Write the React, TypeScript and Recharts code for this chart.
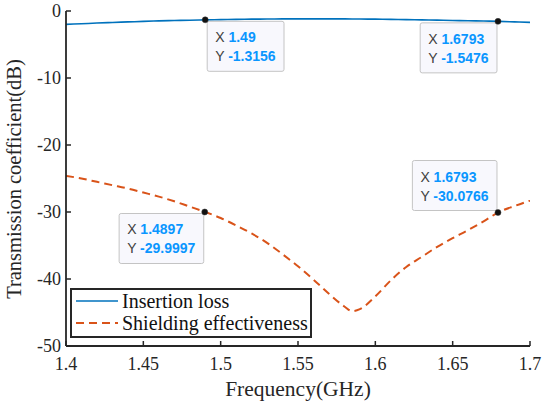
import React from 'react';
import { LineChart, Line, XAxis, YAxis, ReferenceDot, Legend, Label } from 'recharts';

// ---- data ----
const freq = [1.40, 1.41, 1.42, 1.43, 1.44, 1.45, 1.46, 1.47, 1.48, 1.49, 1.50, 1.51, 1.52, 1.53, 1.54, 1.55, 1.56, 1.57, 1.58, 1.585, 1.59, 1.60, 1.61, 1.62, 1.63, 1.64, 1.65, 1.66, 1.67, 1.68, 1.69, 1.70];
const insertionLoss = [-2.0, -1.9, -1.8, -1.71, -1.63, -1.55, -1.48, -1.42, -1.37, -1.32, -1.28, -1.25, -1.22, -1.2, -1.18, -1.17, -1.17, -1.17, -1.18, -1.19, -1.2, -1.22, -1.25, -1.28, -1.32, -1.36, -1.41, -1.46, -1.5, -1.55, -1.62, -1.7];
const shielding = [-24.6, -25.0, -25.5, -26.0, -26.5, -27.1, -27.7, -28.4, -29.2, -30.0, -30.9, -32.0, -33.2, -34.6, -36.3, -38.1, -40.1, -42.2, -44.1, -44.8, -44.5, -42.6, -40.2, -38.2, -36.7, -35.2, -33.9, -32.7, -31.4, -30.0, -29.1, -28.3];

const xTicks = [1.4, 1.45, 1.5, 1.55, 1.6, 1.65, 1.7];
const yTicks = [0, -10, -20, -30, -40, -50];

const seriesNames = ['Insertion loss', 'Shielding effectiveness'];

const tipFreq = [1.49, 1.6793, 1.4897, 1.6793];
const tipValue = [-1.3156, -1.5476, -29.9997, -30.0766];
const tipXText = ['1.49', '1.6793', '1.4897', '1.6793'];
const tipYText = ['-1.3156', '-1.5476', '-29.9997', '-30.0766'];

const xLabel = 'Frequency(GHz)';
const yLabel = 'Transmission coefficient(dB)';

const tableData = freq.map((f, i) => ({ freq: f, il: insertionLoss[i], se: shielding[i] }));

// ---- styles ----
const AXIS = '#262626';
const SERIF = 'Liberation Serif';
const SANS = 'Liberation Sans';
const BLUE = '#0072BD';
const ORANGE = '#D95319';
const TIP_BLUE = '#0a96ff';
const tipPlacement = ['right-below', 'left-below', 'left-below', 'left-above'];

const charW = (s: string) => {
  let w = 0;
  for (const c of s) {
    if (c === '.') w += 3.9;
    else if (c === '-') w += 4.7;
    else w += 7.8;
  }
  return w;
};

const BottomTick = (props: any) => {
  const { x, y, payload } = props;
  return (
    <g>
      <line x1={x} x2={x} y1={y} y2={y - 5} stroke={AXIS} strokeWidth={1.5} />
      <text x={x} y={y + 24} textAnchor="middle" fontSize={18} fontFamily={SERIF} fill={AXIS}>
        {String(payload.value)}
      </text>
    </g>
  );
};
const TopTick = (props: any) => {
  const { x, y } = props;
  return <line x1={x} x2={x} y1={y} y2={y + 5} stroke={AXIS} strokeWidth={1.5} />;
};
const LeftTick = (props: any) => {
  const { x, y, payload } = props;
  return (
    <g>
      <line x1={x} x2={x + 5} y1={y} y2={y} stroke={AXIS} strokeWidth={1.5} />
      <text x={x - 5} y={y + 6} textAnchor="end" fontSize={18} fontFamily={SERIF} fill={AXIS}>
        {String(payload.value)}
      </text>
    </g>
  );
};
const RightTick = (props: any) => {
  const { x, y } = props;
  return <line x1={x} x2={x - 5} y1={y} y2={y} stroke={AXIS} strokeWidth={1.5} />;
};

const makeTip = (i: number) => (props: any) => {
  const { cx, cy } = props;
  const w = 16 + 13.2 + Math.max(charW(tipYText[i]), charW(tipXText[i]));
  const h = 50;
  const p = tipPlacement[i];
  const left = p.startsWith('right') ? cx + 2 : cx - 1 - w;
  const top = p.endsWith('below') ? cy + 1.5 : cy - 2 - h;
  return (
    <g>
      <rect x={left} y={top} width={w} height={h} rx={2} fill="#f8f8fd" stroke="#c4c4c4" strokeWidth={1} />
      <text x={left + 8} y={top + 21} fontSize={14} fontFamily={SANS}>
        <tspan fill="#404040">X </tspan>
        <tspan fill={TIP_BLUE} fontWeight="bold">{tipXText[i]}</tspan>
      </text>
      <text x={left + 8} y={top + 40} fontSize={14} fontFamily={SANS}>
        <tspan fill="#404040">Y </tspan>
        <tspan fill={TIP_BLUE} fontWeight="bold">{tipYText[i]}</tspan>
      </text>
      <circle cx={cx} cy={cy} r={3} fill="#111" stroke="#333" strokeWidth={0.5} />
    </g>
  );
};

const renderLegend = (props: any) => {
  const payload = props.payload || [];
  return (
    <div
      style={{
        boxSizing: 'border-box',
        width: 242,
        height: 50,
        border: `2px solid ${AXIS}`,
        background: '#fff',
        paddingLeft: 4,
      }}
    >
      {payload.map((entry: any, idx: number) => (
        <div key={idx} style={{ display: 'flex', alignItems: 'center', height: 22 }}>
          <svg width={44} height={22} style={{ display: 'block' }}>
            <line
              x1={0}
              x2={42}
              y1={11}
              y2={11}
              stroke={entry.color}
              strokeWidth={idx === 0 ? 1.6 : 2}
              strokeDasharray={entry.payload?.strokeDasharray}
            />
          </svg>
          <span style={{ fontFamily: SERIF, fontSize: 20, color: '#111', lineHeight: '22px', marginLeft: 2, whiteSpace: 'nowrap' }}>
            {entry.value}
          </span>
        </div>
      ))}
    </div>
  );
};

export default function App() {
  return (
    <div style={{ position: 'absolute', left: 0, top: 0, width: 543, height: 406, background: '#fff', fontFamily: SERIF }}>
      <LineChart width={543} height={406} data={tableData} margin={{ top: 11, right: 13, bottom: 0, left: 0 }}>
        <XAxis
          dataKey="freq"
          type="number"
          domain={[1.4, 1.7]}
          ticks={xTicks}
          allowDataOverflow
          height={60}
          tickSize={0}
          tickMargin={0}
          tickLine={false}
          tick={<BottomTick />}
          axisLine={{ stroke: AXIS, strokeWidth: 1.8 }}
        >
          <Label
            content={(p: any) => {
              const vb = p.viewBox;
              return (
                <text x={vb.x + vb.width / 2} y={396} textAnchor="middle" fontSize={21.5} fontFamily={SERIF} fill={AXIS}>
                  {xLabel}
                </text>
              );
            }}
          />
        </XAxis>
        <XAxis
          xAxisId="top"
          orientation="top"
          dataKey="freq"
          type="number"
          domain={[1.4, 1.7]}
          ticks={xTicks}
          height={0}
          tickSize={0}
          tickMargin={0}
          tickLine={false}
          tick={<TopTick />}
          axisLine={{ stroke: AXIS, strokeWidth: 1.8 }}
        />
        <YAxis
          type="number"
          domain={[-50, 0]}
          ticks={yTicks}
          allowDataOverflow
          width={66}
          tickSize={0}
          tickMargin={0}
          tickLine={false}
          tick={<LeftTick />}
          axisLine={{ stroke: AXIS, strokeWidth: 1.8 }}
        >
          <Label
            content={() => {
              const cy = 179;
              const x = 21;
              return (
                <text
                  x={x}
                  y={cy}
                  transform={`rotate(-90, ${x}, ${cy})`}
                  textAnchor="middle"
                  fontSize={20.5}
                  fontFamily={SERIF}
                  fill={AXIS}
                >
                  {yLabel}
                </text>
              );
            }}
          />
        </YAxis>
        <YAxis
          yAxisId="right"
          orientation="right"
          type="number"
          domain={[-50, 0]}
          ticks={yTicks}
          width={0}
          tickSize={0}
          tickMargin={0}
          tickLine={false}
          tick={<RightTick />}
          axisLine={{ stroke: AXIS, strokeWidth: 1.8 }}
        />
        <Line
          name={seriesNames[0]}
          dataKey="il"
          type="monotone"
          stroke={BLUE}
          strokeWidth={1.6}
          dot={false}
          activeDot={false}
          isAnimationActive={false}
        />
        <Line
          name={seriesNames[1]}
          dataKey="se"
          type="monotone"
          stroke={ORANGE}
          strokeWidth={2}
          strokeDasharray="8 5"
          dot={false}
          activeDot={false}
          isAnimationActive={false}
        />
        {tipFreq.map((f, i) => (
          <ReferenceDot key={i} x={f} y={tipValue[i]} r={3} shape={makeTip(i)} />
        ))}
        <Legend
          layout="horizontal"
          verticalAlign="middle"
          align="center"
          content={renderLegend}
          wrapperStyle={{ position: 'absolute', left: 70, top: 288, width: 242, height: 50 }}
        />
      </LineChart>
    </div>
  );
}
